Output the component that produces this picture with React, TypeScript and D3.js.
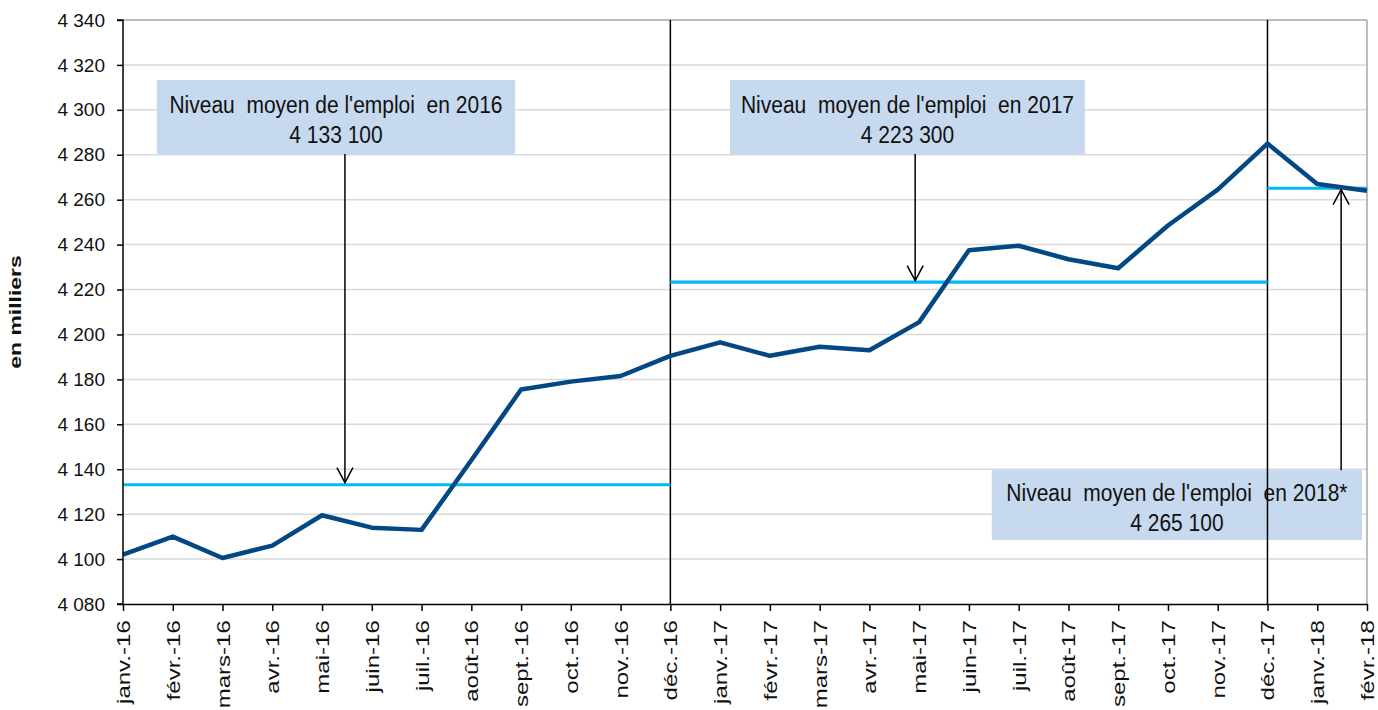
import * as d3 from "d3";
import { useRef, useEffect } from "react";

const months = [
  "janv.-16", "févr.-16", "mars-16", "avr.-16", "mai-16", "juin-16", "juil.-16",
  "août-16", "sept.-16", "oct.-16", "nov.-16", "déc.-16",
  "janv.-17", "févr.-17", "mars-17", "avr.-17", "mai-17", "juin-17", "juil.-17",
  "août-17", "sept.-17", "oct.-17", "nov.-17", "déc.-17",
  "janv.-18", "févr.-18",
];

// emploi en milliers
const emploi = [
  4102, 4110, 4100.5, 4106, 4119.5, 4114, 4113, 4144, 4175.5, 4179, 4181.5, 4190.5,
  4196.5, 4190.5, 4194.5, 4193, 4205.5, 4237.5, 4239.5, 4233.5, 4229.5, 4248.5, 4264.5, 4285,
  4267, 4264,
];

const yTicks = [4080, 4100, 4120, 4140, 4160, 4180, 4200, 4220, 4240, 4260, 4280, 4300, 4320, 4340];

// yearly averages: start/end month index, value
const averages = [
  { from: 0, to: 11, val: 4133.1 },
  { from: 11, to: 23, val: 4223.3 },
  { from: 23, to: 25, val: 4265.1 },
];

const separators = ["déc.-16", "déc.-17"];

// annotation boxes, in month index / value units
const notes = [
  { line1: "Niveau  moyen de l'emploi  en 2016", line2: "4 133 100", x0: 0.68, x1: 7.88, top: 4313.3, bottom: 4280.3, arrowX: 4.46, arrowFrom: 4280.3, arrowTo: 4134 },
  { line1: "Niveau  moyen de l'emploi  en 2017", line2: "4 223 300", x0: 12.2, x1: 19.33, top: 4313.3, bottom: 4280.3, arrowX: 15.92, arrowFrom: 4280.3, arrowTo: 4224 },
  { line1: "Niveau  moyen de l'emploi  en 2018*", line2: "4 265 100", x0: 17.46, x1: 24.9, top: 4139.6, bottom: 4108.5, arrowX: 24.48, arrowFrom: 4139.6, arrowTo: 4264.5 },
];

const App = () => {
  const container = useRef(null);

  useEffect(() => {
    const width = 1378;
    const height = 710;
    const m = { l: 123, r: 11, t: 20, b: 106 };
    const font = "'Liberation Sans', Arial, sans-serif";

    const svg = d3.select(container.current);
    svg.selectAll("*").remove();
    svg.attr("width", width).attr("height", height);

    const x = d3.scalePoint().domain(months).range([m.l, width - m.r]);
    const xi = d3.scaleLinear().domain([0, months.length - 1]).range([m.l, width - m.r]);
    const y = d3.scaleLinear().domain([4080, 4340]).range([height - m.b, m.t]);

    // grid
    svg.append("g")
      .selectAll("line")
      .data(yTicks.slice(1))
      .join("line")
      .attr("x1", m.l).attr("x2", width - m.r)
      .attr("y1", (d) => y(d)).attr("y2", (d) => y(d))
      .attr("stroke", (d) => (d === 4340 ? "#a6a6a6" : "#d9d9d9"))
      .attr("stroke-width", 1.5);

    svg.append("line")
      .attr("x1", width - m.r).attr("x2", width - m.r)
      .attr("y1", m.t).attr("y2", height - m.b)
      .attr("stroke", "#a6a6a6").attr("stroke-width", 1.5);

    // annotation boxes
    const ng = svg.append("g");
    notes.forEach((n) => {
      const bx0 = xi(n.x0), bx1 = xi(n.x1), by0 = y(n.top), by1 = y(n.bottom);
      ng.append("rect")
        .attr("x", bx0).attr("y", by0)
        .attr("width", bx1 - bx0).attr("height", by1 - by0)
        .attr("fill", "#c6d9ee");
      const cx = (bx0 + bx1) / 2, cy = (by0 + by1) / 2;
      [n.line1, n.line2].forEach((t, i) => {
        ng.append("text")
          .attr("transform", `translate(${cx},${cy - 4 + i * 30}) scale(1,1.1)`)
          .attr("text-anchor", "middle")
          .style("font-family", font).style("font-size", "21px")
          .style("white-space", "pre")
          .attr("fill", "#111")
          .text(t);
      });
    });

    // separators
    svg.append("g")
      .selectAll("line")
      .data(separators)
      .join("line")
      .attr("x1", (d) => x(d)).attr("x2", (d) => x(d))
      .attr("y1", m.t).attr("y2", height - m.b)
      .attr("stroke", "#000").attr("stroke-width", 1.5);

    // averages
    svg.append("g")
      .selectAll("line")
      .data(averages)
      .join("line")
      .attr("x1", (d) => xi(d.from)).attr("x2", (d) => xi(d.to))
      .attr("y1", (d) => y(d.val)).attr("y2", (d) => y(d.val))
      .attr("stroke", "#00bcf2").attr("stroke-width", 3.2);

    // main line
    svg.append("path")
      .datum(emploi)
      .attr("fill", "none")
      .attr("stroke", "#034785")
      .attr("stroke-width", 4.5)
      .attr("stroke-linejoin", "round")
      .attr("d", d3.line<number>().x((d, i) => x(months[i])!).y((d) => y(d)));

    // arrows
    const ag = svg.append("g").attr("stroke", "#000").attr("fill", "none");
    notes.forEach((n) => {
      const ax = xi(n.arrowX), y0 = y(n.arrowFrom), y1 = y(n.arrowTo);
      const dir = y1 > y0 ? 1 : -1;
      ag.append("line")
        .attr("x1", ax).attr("x2", ax).attr("y1", y0).attr("y2", y1)
        .attr("stroke-width", 1.5);
      ag.append("path")
        .attr("d", `M${ax - 8},${y1 - dir * 15} L${ax},${y1} L${ax + 8},${y1 - dir * 15}`)
        .attr("stroke-width", 1.5);
    });

    // axes
    const yAxis = svg.append("g")
      .attr("transform", `translate(${m.l},0)`)
      .call(d3.axisLeft(y).tickValues(yTicks).tickSize(6).tickPadding(12)
        .tickFormat((d) => d3.format(",")(d as number).replace(",", " ")));
    yAxis.select(".domain").attr("stroke", "#000").attr("stroke-width", 1.5).attr("d", `M-6,${m.t}H0V${height - m.b}H-6`);
    yAxis.selectAll(".tick line").attr("stroke", "#000").attr("stroke-width", 1.5);
    yAxis.selectAll("text")
      .style("font-family", font).style("font-size", "19px").attr("fill", "#111");

    const xAxis = svg.append("g")
      .attr("transform", `translate(0,${height - m.b})`)
      .call(d3.axisBottom(x).tickSize(7).tickSizeOuter(0));
    xAxis.select(".domain").attr("stroke", "#000").attr("stroke-width", 1.5);
    xAxis.selectAll(".tick line").attr("stroke", "#000").attr("stroke-width", 1.5);
    xAxis.selectAll("text")
      .attr("transform", "rotate(-90) scale(1.3,1)")
      .attr("text-anchor", "end")
      .attr("x", -12.5)
      .attr("y", 0)
      .attr("dy", "0.35em")
      .style("font-family", font).style("font-size", "18.5px")
      .attr("fill", "#111");

    // y title
    svg.append("text")
      .attr("transform", `translate(21,${(m.t + height - m.b) / 2}) rotate(-90) scale(1.35,1)`)
      .attr("text-anchor", "middle")
      .style("font-family", font).style("font-size", "17px").style("font-weight", "bold")
      .attr("fill", "#111")
      .text("en milliers");

    return;
  });

  return (
    <svg ref={container} style={{ position: "absolute", left: 0, top: 0 }}></svg>
  );
};

export default App;
